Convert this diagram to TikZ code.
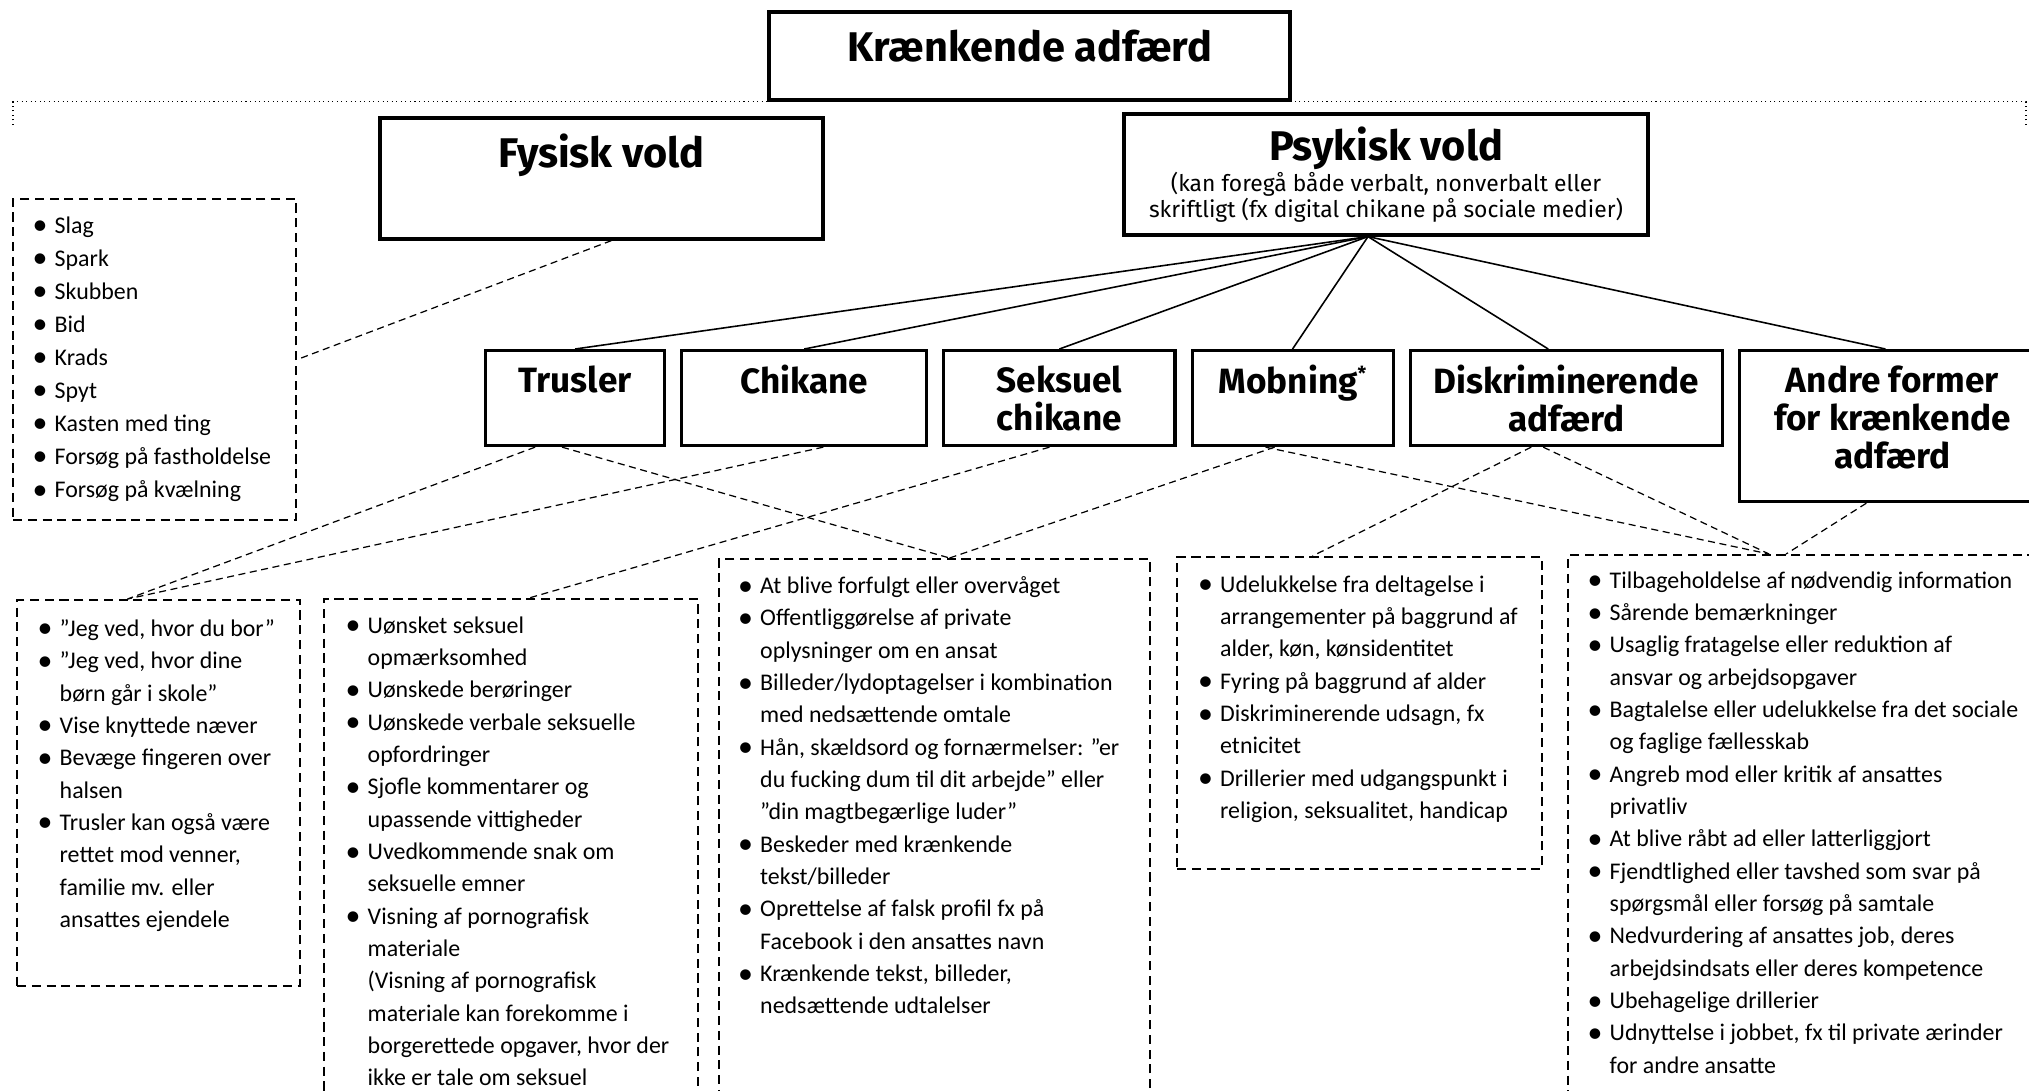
\documentclass[tikz,border=0pt]{standalone}
\usepackage{fontspec}
\setmainfont{Carlito}
\newfontfamily\headfont{Fira Sans}
\usetikzlibrary{positioning}
\newcommand{\toptitle}{\headfont\bfseries\fontsize{11.8}{12}\selectfont}
\newcommand{\subnote}{\headfont\fontsize{6.5}{7.4}\selectfont}
\newcommand{\itembul}{\makebox[0.22cm][l]{\raisebox{-0.4pt}{\fontsize{8.5}{8.5}\selectfont\textbullet}}}
\newcommand{\itemcont}{\hspace*{0.22cm}}
\tikzset{
	block/.style={
		rectangle,
		draw,
		line width=0.9pt,
		align=center,
		inner sep=0pt,
		font=\headfont\bfseries\fontsize{10}{10.8}\selectfont
	},
	listbox/.style={
		rectangle,
		draw,
		line width=0.6pt,
		dash pattern=on 2.6pt off 1.6pt,
		anchor=north west,
		inner sep=0pt
	},
	items/.style={
		anchor=north west,
		align=left,
		inner sep=0pt,
		font=\fontsize{6.8}{9.2}\selectfont
	},
	link/.style={
		line width=0.35pt,
		dash pattern=on 2pt off 1.3pt
	},
	branch/.style={
		line width=0.45pt
	}
}

\begin{document}
\begin{tikzpicture}
	\useasboundingbox (0,0) rectangle (20.29,-10.91);
	\clip (0,0) rectangle (20.29,-10.91);

	% top level
	\draw node[block, minimum width=5.21cm, minimum height=0.88cm, text depth=0.2cm, font=\toptitle] (Kraenkende) at (10.295,-0.56) {Krænkende adfærd};
	\coordinate (BracketL) at (0.13,-1.25);
	\coordinate (BracketR) at (20.26,-1.25);
	\draw[densely dotted, line width=0.3pt] (BracketL) |- (Kraenkende.south west);
	\draw[densely dotted, line width=0.3pt] (BracketR) |- (Kraenkende.south east);

	\draw node[block, minimum width=4.43cm, minimum height=1.21cm, text depth=0.56cm, font=\toptitle] (Fysisk) at (6.015,-1.785) {Fysisk vold};
	\draw node[block, minimum width=5.24cm, minimum height=1.21cm, font=\subnote] (Psykisk) at (13.86,-1.745) {{\toptitle Psykisk vold}\\[-0.5pt](kan foregå både verbalt, nonverbalt eller\\skriftligt (fx digital chikane på sociale medier)};

	% second row
	\draw node[block, anchor=north west, minimum width=1.79cm, minimum height=0.95cm] (Trusler) at (4.84,-3.49) {Trusler\\~};
	\draw node[block, right=0.14cm of Trusler.north east, anchor=north west, minimum width=2.45cm, minimum height=0.95cm] (Chikane) {Chikane\\~};
	\draw node[block, right=0.14cm of Chikane.north east, anchor=north west, minimum width=2.31cm, minimum height=0.95cm] (Seksuel) {Seksuel\\chikane};
	\draw node[block, right=0.14cm of Seksuel.north east, anchor=north west, minimum width=2.01cm, minimum height=0.95cm] (Mobning) {Mobning\raisebox{3.6pt}{\fontsize{5.5}{5.5}\selectfont *}\\~};
	\draw node[block, right=0.14cm of Mobning.north east, anchor=north west, minimum width=3.12cm, minimum height=0.95cm] (Diskrim) {Diskriminerende\\adfærd};
	\draw node[block, right=0.14cm of Diskrim.north east, anchor=north west, minimum width=3.06cm, minimum height=1.51cm] (Andre) {Andre former\\for krænkende\\adfærd\\[-5.7pt]~};

	\coordinate (PsykiskFoot) at ([xshift=-0.18cm]Psykisk.south);
	\draw[branch] (PsykiskFoot) -- (Trusler.north);
	\draw[branch] (PsykiskFoot) -- (Chikane.north);
	\draw[branch] (PsykiskFoot) -- (Seksuel.north);
	\draw[branch] (PsykiskFoot) -- (Mobning.north);
	\draw[branch] (PsykiskFoot) -- ([xshift=-0.18cm]Diskrim.north);
	\draw[branch] (PsykiskFoot) -- ([xshift=-0.07cm]Andre.north);

	% lists
	\node[listbox, minimum width=2.83cm, minimum height=3.21cm] (FysiskList) at (0.12,-1.98) {};
	\node[items, font=\fontsize{6.8}{9.4}\selectfont, below right=0.18cm and 0.2cm of FysiskList.north west] (FysiskItems) {\itembul Slag\\\itembul Spark\\\itembul Skubben\\\itembul Bid\\\itembul Krads\\\itembul Spyt\\\itembul Kasten med ting\\\itembul Forsøg på fastholdelse\\\itembul Forsøg på kvælning};

	\node[listbox, minimum width=2.83cm, minimum height=3.86cm] (TruslerList) at (0.16,-5.99) {};
	\node[items, below right=0.2cm and 0.21cm of TruslerList.north west] (TruslerItems) {\itembul ”Jeg ved, hvor du bor”\\\itembul ”Jeg ved, hvor dine\\\itemcont børn går i skole”\\\itembul Vise knyttede næver\\\itembul Bevæge fingeren over\\\itemcont halsen\\\itembul Trusler kan også være\\\itemcont rettet mod venner,\\\itemcont familie mv. eller\\\itemcont ansattes ejendele};

	\node[listbox, minimum width=3.74cm, minimum height=6cm] (SeksuelList) at (3.23,-5.98) {};
	\node[items, below right=0.18cm and 0.22cm of SeksuelList.north west] (SeksuelItems) {\itembul Uønsket seksuel\\\itemcont opmærksomhed\\\itembul Uønskede berøringer\\\itembul Uønskede verbale seksuelle\\\itemcont opfordringer\\\itembul Sjofle kommentarer og\\\itemcont upassende vittigheder\\\itembul Uvedkommende snak om\\\itemcont seksuelle emner\\\itembul Visning af pornografisk\\\itemcont materiale\\\itemcont (Visning af pornografisk\\\itemcont materiale kan forekomme i\\\itemcont borgerettede opgaver, hvor der\\\itemcont ikke er tale om seksuel};

	\node[listbox, minimum width=4.31cm, minimum height=6cm] (ChikaneList) at (7.18,-5.58) {};
	\node[items, below right=0.18cm and 0.195cm of ChikaneList.north west] (ChikaneItems) {\itembul At blive forfulgt eller overvåget\\\itembul Offentliggørelse af private\\\itemcont oplysninger om en ansat\\\itembul Billeder/lydoptagelser i kombination\\\itemcont med nedsættende omtale\\\itembul Hån, skældsord og fornærmelser: ”er\\\itemcont du fucking dum til dit arbejde” eller\\\itemcont ”din magtbegærlige luder”\\\itembul Beskeder med krænkende\\\itemcont tekst/billeder\\\itembul Oprettelse af falsk profil fx på\\\itemcont Facebook i den ansattes navn\\\itembul Krænkende tekst, billeder,\\\itemcont nedsættende udtalelser};

	\node[listbox, minimum width=3.65cm, minimum height=3.12cm] (DiskrimList) at (11.76,-5.56) {};
	\node[items, below right=0.19cm and 0.215cm of DiskrimList.north west] (DiskrimItems) {\itembul Udelukkelse fra deltagelse i\\\itemcont arrangementer på baggrund af\\\itemcont alder, køn, kønsidentitet\\\itembul Fyring på baggrund af alder\\\itembul Diskriminerende udsagn, fx\\\itemcont etnicitet\\\itembul Drillerier med udgangspunkt i\\\itemcont religion, seksualitet, handicap};

	\node[listbox, minimum width=4.73cm, minimum height=6cm] (AndreList) at (15.67,-5.54) {};
	\node[items, below right=0.17cm and 0.2cm of AndreList.north west] (AndreItems) {\itembul Tilbageholdelse af nødvendig information\\\itembul Sårende bemærkninger\\\itembul Usaglig fratagelse eller reduktion af\\\itemcont ansvar og arbejdsopgaver\\\itembul Bagtalelse eller udelukkelse fra det sociale\\\itemcont og faglige fællesskab\\\itembul Angreb mod eller kritik af ansattes\\\itemcont privatliv\\\itembul At blive råbt ad eller latterliggjort\\\itembul Fjendtlighed eller tavshed som svar på\\\itemcont spørgsmål eller forsøg på samtale\\\itembul Nedvurdering af ansattes job, deres\\\itemcont arbejdsindsats eller deres kompetence\\\itembul Ubehagelige drillerier\\\itembul Udnyttelse i jobbet, fx til private ærinder\\\itemcont for andre ansatte};

	% dashed links
	\draw[link] ([xshift=0.1cm]Fysisk.south) -- (FysiskList.east);
	\draw[link] ([xshift=-0.4cm]Trusler.south) -- ([xshift=-0.31cm]TruslerList.north);
	\draw[link] ([xshift=0.19cm]Chikane.south) -- ([xshift=-0.31cm]TruslerList.north);
	\draw[link] ([xshift=-0.13cm]Trusler.south) -- ([xshift=0.15cm]ChikaneList.north);
	\draw[link] ([xshift=-0.1cm]Seksuel.south) -- ([xshift=0.18cm]SeksuelList.north);
	\draw[link] ([xshift=-0.18cm]Mobning.south) -- ([xshift=0.15cm]ChikaneList.north);
	\draw[link] ([xshift=-0.27cm]Mobning.south) -- ([xshift=-0.355cm]AndreList.north);
	\draw[link] ([xshift=-0.35cm]Diskrim.south) -- ([xshift=-0.47cm]DiskrimList.north);
	\draw[link] ([xshift=-0.23cm]Diskrim.south) -- ([xshift=-0.355cm]AndreList.north);
	\draw[link] ([xshift=-0.26cm]Andre.south) -- ([xshift=-0.185cm]AndreList.north);
\end{tikzpicture}
\end{document}
